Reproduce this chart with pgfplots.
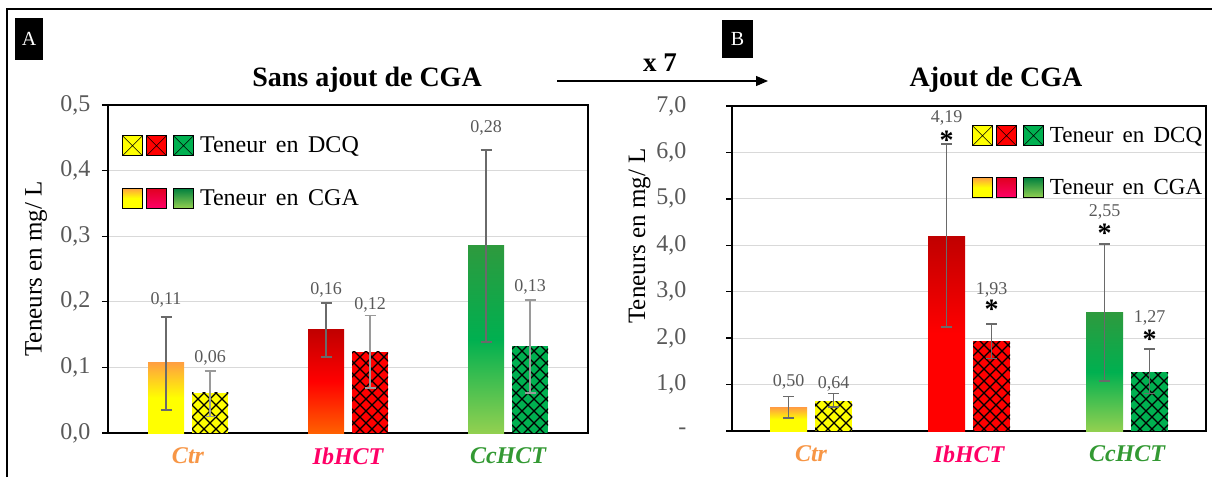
\documentclass[border=0pt]{standalone}
\usepackage{fontspec}
\setmainfont{Liberation Serif}
\usepackage{pgfplots}
\pgfplotsset{compat=1.18}
\usetikzlibrary{patterns,arrows.meta}
\newcommand{\fs}[1]{\fontsize{#1}{#1}\selectfont}
\definecolor{tickc}{HTML}{595959}
\definecolor{valc}{HTML}{595959}
\definecolor{gridc}{HTML}{D9D9D9}
\definecolor{ctrc}{HTML}{F79646}
\definecolor{ibc}{HTML}{FF0066}
\definecolor{ccc}{HTML}{339933}
\definecolor{dy}{HTML}{FFFF00}
\definecolor{dr}{HTML}{FF0000}
\definecolor{dg}{HTML}{00B050}
\definecolor{orng}{HTML}{FFA040}
\definecolor{dred}{HTML}{C00000}
\definecolor{oran}{HTML}{FF6000}
\definecolor{tgreen}{HTML}{2E9A3E}
\definecolor{lgreen}{HTML}{92D050}
\definecolor{lred}{HTML}{E00020}
\definecolor{lgtop}{HTML}{00803F}
\definecolor{errd}{HTML}{6A6A6A}
\definecolor{errl}{HTML}{9A9A9A}
\pgfdeclarepatternformonly{diamonds}{\pgfqpoint{-1pt}{-1pt}}{\pgfqpoint{13pt}{13pt}}{\pgfqpoint{12pt}{12pt}}{%
  \pgfsetlinewidth{1.1pt}%
  \pgfpathmoveto{\pgfqpoint{0pt}{0pt}}\pgfpathlineto{\pgfqpoint{12pt}{12pt}}%
  \pgfpathmoveto{\pgfqpoint{0pt}{12pt}}\pgfpathlineto{\pgfqpoint{12pt}{0pt}}%
  \pgfusepath{stroke}}
\pgfplotsset{
  errp/.style={forget plot, only marks, mark=*, mark size=0pt, mark options={draw=none,fill=none},
    line width=1.7pt, draw=#1,
    error bars/.cd, y dir=both, y explicit,
    error bar style={draw=#1, line width=1.7pt, solid},
    error mark options={draw=#1, rotate=90, mark size=5.5pt, line width=1.7pt}},
  lab/.style={forget plot, only marks, mark=*, mark size=0pt, mark options={draw=none,fill=none},
    point meta=explicit symbolic, nodes near coords, nodes near coords align=center,
    every node near coord/.append style={anchor=center, font=\fs{18}, text=valc}},
  star/.style={forget plot, only marks, mark=*, mark size=0pt, mark options={draw=none,fill=none},
    point meta=explicit symbolic, nodes near coords, nodes near coords align=center,
    every node near coord/.append style={anchor=center, font=\fs{28}\bfseries, text=black, yshift=-4pt}},
  dcqleg/.style={legend image code/.code={
    \draw[line width=0.9pt, fill=dy] (0pt,-10pt) rectangle (20pt,10pt);
    \draw[line width=0.5pt] (0pt,-10pt) -- (20pt,10pt) (0pt,10pt) -- (20pt,-10pt);
    \draw[line width=0.9pt, fill=dr] (24pt,-10pt) rectangle (44pt,10pt);
    \draw[line width=0.5pt] (24pt,-10pt) -- (44pt,10pt) (24pt,10pt) -- (44pt,-10pt);
    \draw[line width=0.9pt, fill=dg] (51pt,-10pt) rectangle (71pt,10pt);
    \draw[line width=0.5pt] (51pt,-10pt) -- (71pt,10pt) (51pt,10pt) -- (71pt,-10pt);
  }},
  cgaleg/.style={legend image code/.code={
    \draw[line width=0.9pt, top color=orng, bottom color=dy, middle color=dy] (0pt,-10pt) rectangle (20pt,10pt);
    \draw[line width=0.9pt, top color=lred, bottom color=ibc] (24pt,-10pt) rectangle (44pt,10pt);
    \draw[line width=0.9pt, top color=lgtop, bottom color=lgreen] (51pt,-10pt) rectangle (71pt,10pt);
  }},
  common/.style={
    anchor=south west, scale only axis, clip=false,
    xmin=-0.5, xmax=2.5, xtick={0,1,2},
    xticklabels={\textcolor{ctrc}{Ctr},\textcolor{ibc}{IbHCT},\textcolor{ccc}{CcHCT}},
    axis line style={line width=1.3pt, black},
    ymajorgrids, grid style={line width=1pt, gridc},
    tick align=outside, major tick length=6pt, ytick pos=left,
    ytick style={line width=1.3pt, black},
    xtick style={draw=none},
    xticklabel style={font=\fs{24}\bfseries\itshape, yshift=-5pt},
    ylabel={Teneurs en mg/ L},
    legend cell align=left,
  },
}
\begin{document}
\begin{tikzpicture}
\path[use as bounding box] (0pt,0pt) rectangle (1212pt,477pt);
\draw[line width=1.5pt] (7pt,0pt) -- (7pt,468pt) -- (1212pt,468pt);
% panel labels
\fill[black] (15pt,417pt) rectangle (43pt,459pt);
\node[text=white, font=\fs{20}] at (29pt,438pt) {A};
\fill[black] (722pt,419pt) rectangle (753pt,457pt);
\node[text=white, font=\fs{20}] at (737.5pt,438pt) {B};
% titles and arrow
\node[font=\fs{28}\bfseries] at (367pt,397pt) {Sans ajout de CGA};
\node[font=\fs{28}\bfseries] at (996pt,397pt) {Ajout de CGA};
\draw[line width=1.2pt, -{Triangle[length=12pt,width=10pt]}] (557pt,396pt) -- (768pt,396pt);
\node[font=\fs{27}\bfseries] at (660pt,414pt) {x 7};

% ---------------- Panel A
\begin{axis}[common,
  at={(108pt,44pt)}, width=480pt, height=328pt,
  ymin=0, ymax=0.5, ytick={0,0.1,0.2,0.3,0.4,0.5},
  yticklabels={{0,0},{0,1},{0,2},{0,3},{0,4},{0,5}},
  yticklabel style={font=\fs{24}, text=tickc, xshift=-8pt},
  ylabel style={font=\fs{25}, at={(axis description cs:-0.15,0.5)}, anchor=center},
  legend style={at={(axis description cs:0.029,0.909)}, anchor=north west, draw=none, fill=none,
    inner sep=0pt, row sep=31pt, column sep=4pt, font=\fs{24}},
]
\addlegendimage{dcqleg}
\addlegendentry{Teneur\hspace{0.4em}en\hspace{0.4em}DCQ}
\addlegendimage{cgaleg}
\addlegendentry{Teneur\hspace{0.4em}en\hspace{0.4em}CGA}
% CGA bars
\addplot[forget plot, ybar, bar width=36pt, bar shift=-22pt, draw=none, top color=orng, bottom color=dy, middle color=dy] coordinates {(0,0.107)};
\addplot[forget plot, ybar, bar width=36pt, bar shift=-22pt, draw=none, top color=dred, bottom color=oran, middle color=dr] coordinates {(1,0.158)};
\addplot[forget plot, ybar, bar width=36pt, bar shift=-22pt, draw=none, top color=tgreen, bottom color=lgreen, middle color=dg] coordinates {(2,0.286)};
% DCQ bars
\addplot[forget plot, ybar, bar width=36pt, bar shift=22pt, draw=none, fill=dy, postaction={pattern=diamonds, pattern color=black}] coordinates {(0,0.061)};
\addplot[forget plot, ybar, bar width=36pt, bar shift=22pt, draw=none, fill=dr, postaction={pattern=diamonds, pattern color=black}] coordinates {(1,0.124)};
\addplot[forget plot, ybar, bar width=36pt, bar shift=22pt, draw=none, fill=dg, postaction={pattern=diamonds, pattern color=black}] coordinates {(2,0.132)};
% error bars
\addplot[errp=errd] coordinates {(-0.1375,0.106) +- (0,0.071) (0.8625,0.157) +- (0,0.041) (1.8625,0.285) +- (0,0.146)};
\addplot[errp=errl] coordinates {(0.1375,0.060) +- (0,0.035) (1.1375,0.124) +- (0,0.055) (2.1375,0.132) +- (0,0.071)};
% value labels
\addplot[lab] table[meta=l] {
x y l
-0.1375 0.2027 0,11
0.1375 0.1143 0,06
0.8625 0.218 0,16
1.1375 0.195 0,12
1.8625 0.465 0,28
2.1375 0.2226 0,13
};
\end{axis}

% ---------------- Panel B
\begin{axis}[common,
  at={(732pt,46pt)}, width=474pt, height=325pt,
  ymin=0, ymax=7, ytick={0,1,2,3,4,5,6,7},
  yticklabels={-,{1,0},{2,0},{3,0},{4,0},{5,0},{6,0},{7,0}},
  yticklabel style={font=\fs{24}, text=tickc, xshift=-36pt},
  ylabel style={font=\fs{25}, at={(axis description cs:-0.195,0.6)}, anchor=center},
  legend style={at={(axis description cs:0.506,0.9415)}, anchor=north west, draw=none, fill=none,
    inner sep=0pt, row sep=31pt, column sep=4pt, font=\fs{23}},
]
\addlegendimage{dcqleg}
\addlegendentry{Teneur\hspace{0.4em}en\hspace{0.4em}DCQ}
\addlegendimage{cgaleg}
\addlegendentry{Teneur\hspace{0.4em}en\hspace{0.4em}CGA}
% CGA bars
\addplot[forget plot, ybar, bar width=37pt, bar shift=-22.5pt, draw=none, top color=orng, bottom color=dy, middle color=dy] coordinates {(0,0.50)};
\addplot[forget plot, ybar, bar width=37pt, bar shift=-22.5pt, draw=none, top color=dred, bottom color=dr, middle color=dr] coordinates {(1,4.19)};
\addplot[forget plot, ybar, bar width=37pt, bar shift=-22.5pt, draw=none, top color=tgreen, bottom color=lgreen, middle color=dg] coordinates {(2,2.55)};
% DCQ bars
\addplot[forget plot, ybar, bar width=37pt, bar shift=22.5pt, draw=none, fill=dy, postaction={pattern=diamonds, pattern color=black}] coordinates {(0,0.64)};
\addplot[forget plot, ybar, bar width=37pt, bar shift=22.5pt, draw=none, fill=dr, postaction={pattern=diamonds, pattern color=black}] coordinates {(1,1.93)};
\addplot[forget plot, ybar, bar width=37pt, bar shift=22.5pt, draw=none, fill=dg, postaction={pattern=diamonds, pattern color=black}] coordinates {(2,1.27)};
% error bars
\addplot[errp=errd] coordinates {(-0.1424,0.51) +- (0,0.23) (0.8576,4.21) +- (0,1.97) (1.8576,2.55) +- (0,1.48)
  (0.1424,0.66) +- (0,0.15) (1.1424,1.93) +- (0,0.37) (2.1424,1.285) +- (0,0.475)};
% value labels
\addplot[lab] table[meta=l] {
x y l
-0.1424 1.055 0,50
0.1424 1.012 0,64
0.8576 6.74 4,19
1.1424 3.04 1,93
1.8576 4.72 2,55
2.1424 2.43 1,27
};
\addplot[star] table[meta=l] {
x y l
0.8576 6.35 *
1.1424 2.71 *
1.8576 4.35 *
2.1424 2.07 *
};
\end{axis}
\end{tikzpicture}
\end{document}
